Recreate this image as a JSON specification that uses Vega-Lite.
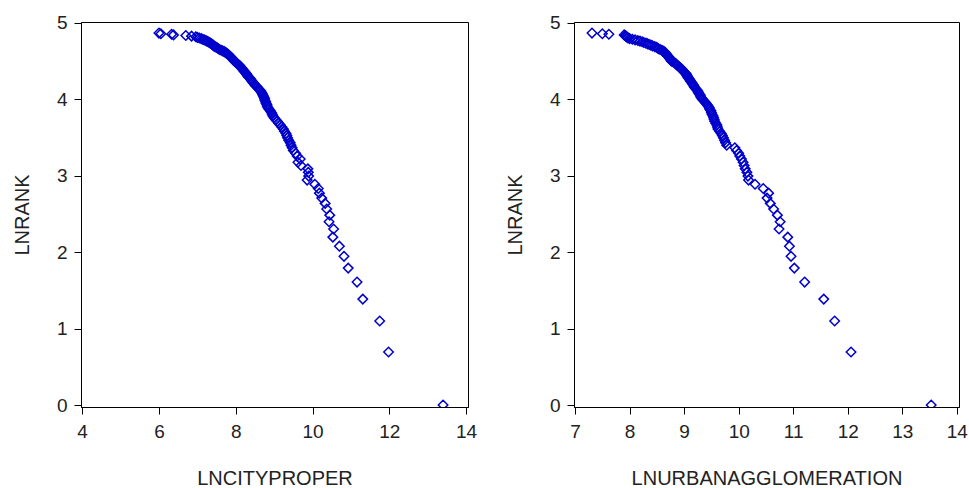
{
  "$schema": "https://vega.github.io/schema/vega-lite/v6.json",
  "background": "white",
  "padding": {"left": 11, "top": 13, "right": 5, "bottom": 0},
  "spacing": 26,
  "data": {"values": [
    {"r":1,"y":0,"c":13.40,"u":13.53},
    {"r":2,"y":0.693,"c":11.98,"u":12.06},
    {"r":3,"y":1.099,"c":11.75,"u":11.76},
    {"r":4,"y":1.386,"c":11.31,"u":11.56},
    {"r":5,"y":1.609,"c":11.16,"u":11.21},
    {"r":6,"y":1.792,"c":10.93,"u":11.02},
    {"r":7,"y":1.946,"c":10.82,"u":10.96},
    {"r":8,"y":2.079,"c":10.70,"u":10.93},
    {"r":9,"y":2.197,"c":10.53,"u":10.90},
    {"r":10,"y":2.303,"c":10.55,"u":10.74},
    {"r":11,"y":2.398,"c":10.43,"u":10.76},
    {"r":12,"y":2.485,"c":10.45,"u":10.71},
    {"r":13,"y":2.565,"c":10.37,"u":10.64},
    {"r":14,"y":2.639,"c":10.33,"u":10.58},
    {"r":15,"y":2.708,"c":10.24,"u":10.52},
    {"r":16,"y":2.773,"c":10.18,"u":10.55},
    {"r":17,"y":2.833,"c":10.15,"u":10.45},
    {"r":18,"y":2.890,"c":10.06,"u":10.30},
    {"r":19,"y":2.944,"c":9.86,"u":10.18},
    {"r":20,"y":2.996,"c":9.90,"u":10.17},
    {"r":21,"y":3.045,"c":9.89,"u":10.15},
    {"r":22,"y":3.091,"c":9.88,"u":10.12},
    {"r":23,"y":3.135,"c":9.70,"u":10.10},
    {"r":24,"y":3.178,"c":9.62,"u":10.08},
    {"r":25,"y":3.219,"c":9.68,"u":10.05},
    {"r":26,"y":3.258,"c":9.60,"u":10.02},
    {"r":27,"y":3.296,"c":9.56,"u":10.00},
    {"r":28,"y":3.332,"c":9.50,"u":9.96},
    {"r":29,"y":3.367,"c":9.47,"u":9.93},
    {"r":30,"y":3.401,"c":9.44,"u":9.78},
    {"r":31,"y":3.434,"c":9.42,"u":9.76},
    {"r":32,"y":3.466,"c":9.38,"u":9.74},
    {"r":33,"y":3.497,"c":9.35,"u":9.72},
    {"r":34,"y":3.526,"c":9.33,"u":9.70},
    {"r":35,"y":3.555,"c":9.31,"u":9.68},
    {"r":36,"y":3.584,"c":9.27,"u":9.65},
    {"r":37,"y":3.611,"c":9.24,"u":9.62},
    {"r":38,"y":3.638,"c":9.20,"u":9.61},
    {"r":39,"y":3.664,"c":9.16,"u":9.60},
    {"r":40,"y":3.689,"c":9.12,"u":9.58},
    {"r":41,"y":3.714,"c":9.08,"u":9.56},
    {"r":42,"y":3.738,"c":9.04,"u":9.55},
    {"r":43,"y":3.761,"c":9.00,"u":9.54},
    {"r":44,"y":3.784,"c":8.97,"u":9.53},
    {"r":45,"y":3.807,"c":8.95,"u":9.51},
    {"r":46,"y":3.829,"c":8.93,"u":9.50},
    {"r":47,"y":3.850,"c":8.90,"u":9.49},
    {"r":48,"y":3.871,"c":8.87,"u":9.47},
    {"r":49,"y":3.892,"c":8.84,"u":9.46},
    {"r":50,"y":3.912,"c":8.82,"u":9.44},
    {"r":51,"y":3.932,"c":8.81,"u":9.42},
    {"r":52,"y":3.951,"c":8.79,"u":9.40},
    {"r":53,"y":3.970,"c":8.78,"u":9.38},
    {"r":54,"y":3.989,"c":8.76,"u":9.35},
    {"r":55,"y":4.007,"c":8.75,"u":9.33},
    {"r":56,"y":4.025,"c":8.74,"u":9.31},
    {"r":57,"y":4.043,"c":8.72,"u":9.30},
    {"r":58,"y":4.060,"c":8.70,"u":9.29},
    {"r":59,"y":4.078,"c":8.69,"u":9.27},
    {"r":60,"y":4.094,"c":8.67,"u":9.26},
    {"r":61,"y":4.111,"c":8.65,"u":9.25},
    {"r":62,"y":4.127,"c":8.62,"u":9.23},
    {"r":63,"y":4.143,"c":8.59,"u":9.21},
    {"r":64,"y":4.159,"c":8.56,"u":9.19},
    {"r":65,"y":4.174,"c":8.53,"u":9.18},
    {"r":66,"y":4.190,"c":8.50,"u":9.17},
    {"r":67,"y":4.205,"c":8.48,"u":9.15},
    {"r":68,"y":4.220,"c":8.45,"u":9.14},
    {"r":69,"y":4.234,"c":8.43,"u":9.12},
    {"r":70,"y":4.248,"c":8.41,"u":9.11},
    {"r":71,"y":4.263,"c":8.39,"u":9.10},
    {"r":72,"y":4.277,"c":8.37,"u":9.08},
    {"r":73,"y":4.290,"c":8.34,"u":9.07},
    {"r":74,"y":4.304,"c":8.32,"u":9.06},
    {"r":75,"y":4.317,"c":8.30,"u":9.05},
    {"r":76,"y":4.331,"c":8.28,"u":9.04},
    {"r":77,"y":4.344,"c":8.26,"u":9.02},
    {"r":78,"y":4.357,"c":8.24,"u":9.00},
    {"r":79,"y":4.369,"c":8.22,"u":8.99},
    {"r":80,"y":4.382,"c":8.20,"u":8.97},
    {"r":81,"y":4.394,"c":8.18,"u":8.96},
    {"r":82,"y":4.407,"c":8.16,"u":8.94},
    {"r":83,"y":4.419,"c":8.14,"u":8.92},
    {"r":84,"y":4.431,"c":8.12,"u":8.90},
    {"r":85,"y":4.443,"c":8.10,"u":8.88},
    {"r":86,"y":4.454,"c":8.07,"u":8.86},
    {"r":87,"y":4.466,"c":8.04,"u":8.85},
    {"r":88,"y":4.477,"c":8.02,"u":8.83},
    {"r":89,"y":4.489,"c":8.00,"u":8.80},
    {"r":90,"y":4.500,"c":7.97,"u":8.77},
    {"r":91,"y":4.511,"c":7.95,"u":8.76},
    {"r":92,"y":4.522,"c":7.93,"u":8.75},
    {"r":93,"y":4.533,"c":7.91,"u":8.74},
    {"r":94,"y":4.543,"c":7.89,"u":8.73},
    {"r":95,"y":4.554,"c":7.87,"u":8.72},
    {"r":96,"y":4.564,"c":7.85,"u":8.70},
    {"r":97,"y":4.575,"c":7.83,"u":8.69},
    {"r":98,"y":4.585,"c":7.81,"u":8.68},
    {"r":99,"y":4.595,"c":7.79,"u":8.67},
    {"r":100,"y":4.605,"c":7.76,"u":8.66},
    {"r":101,"y":4.615,"c":7.73,"u":8.65},
    {"r":102,"y":4.625,"c":7.70,"u":8.63},
    {"r":103,"y":4.635,"c":7.66,"u":8.61},
    {"r":104,"y":4.644,"c":7.62,"u":8.59},
    {"r":105,"y":4.654,"c":7.58,"u":8.56},
    {"r":106,"y":4.663,"c":7.55,"u":8.53},
    {"r":107,"y":4.673,"c":7.52,"u":8.51},
    {"r":108,"y":4.682,"c":7.49,"u":8.49},
    {"r":109,"y":4.691,"c":7.46,"u":8.46},
    {"r":110,"y":4.700,"c":7.43,"u":8.42},
    {"r":111,"y":4.710,"c":7.41,"u":8.39},
    {"r":112,"y":4.718,"c":7.39,"u":8.36},
    {"r":113,"y":4.727,"c":7.37,"u":8.33},
    {"r":114,"y":4.736,"c":7.34,"u":8.30},
    {"r":115,"y":4.745,"c":7.31,"u":8.26},
    {"r":116,"y":4.754,"c":7.28,"u":8.23},
    {"r":117,"y":4.762,"c":7.25,"u":8.19},
    {"r":118,"y":4.771,"c":7.22,"u":8.15},
    {"r":119,"y":4.779,"c":7.18,"u":8.10},
    {"r":120,"y":4.787,"c":7.14,"u":8.05},
    {"r":121,"y":4.796,"c":7.10,"u":8.00},
    {"r":122,"y":4.804,"c":7.05,"u":7.97},
    {"r":123,"y":4.812,"c":7.00,"u":7.96},
    {"r":124,"y":4.820,"c":6.96,"u":7.94},
    {"r":125,"y":4.828,"c":6.85,"u":7.93},
    {"r":126,"y":4.836,"c":6.70,"u":7.92},
    {"r":127,"y":4.844,"c":6.38,"u":7.90},
    {"r":128,"y":4.852,"c":6.33,"u":7.62},
    {"r":129,"y":4.860,"c":6.05,"u":7.50},
    {"r":130,"y":4.868,"c":6.00,"u":7.31}
  ]},
  "hconcat": [
    {
      "width": 387,
      "height": 385,
      "mark": {"type": "point", "shape": "diamond", "filled": false, "size": 90, "stroke": "#0000cc", "strokeWidth": 1.5, "opacity": 1, "clip": true},
      "encoding": {
        "x": {"field": "c", "type": "quantitative", "title": "LNCITYPROPER",
              "scale": {"domain": [3.97, 14.05], "nice": false, "zero": false},
              "axis": {"values": [4, 6, 8, 10, 12, 14]}},
        "y": {"field": "y", "type": "quantitative", "title": "LNRANK",
              "scale": {"domain": [-0.026, 5.013], "nice": false, "zero": false},
              "axis": {"values": [0, 1, 2, 3, 4, 5]}}
      }
    },
    {
      "width": 385,
      "height": 385,
      "mark": {"type": "point", "shape": "diamond", "filled": false, "size": 90, "stroke": "#0000cc", "strokeWidth": 1.5, "opacity": 1, "clip": true},
      "encoding": {
        "x": {"field": "u", "type": "quantitative", "title": "LNURBANAGGLOMERATION",
              "scale": {"domain": [6.98, 14.04], "nice": false, "zero": false},
              "axis": {"values": [7, 8, 9, 10, 11, 12, 13, 14]}},
        "y": {"field": "y", "type": "quantitative", "title": "LNRANK",
              "scale": {"domain": [-0.026, 5.013], "nice": false, "zero": false},
              "axis": {"values": [0, 1, 2, 3, 4, 5]}}
      }
    }
  ],
  "config": {
    "view": {"stroke": "#000", "strokeWidth": 1},
    "axis": {
      "grid": false,
      "domainColor": "#000",
      "tickColor": "#000",
      "tickSize": 7,
      "labelFont": "Liberation Sans",
      "titleFont": "Liberation Sans",
      "labelFontSize": 19,
      "titleFontSize": 20,
      "titleFontWeight": "normal",
      "labelColor": "#222",
      "titleColor": "#222"
    },
    "axisX": {"labelPadding": 8, "titlePadding": 27},
    "axisY": {"labelPadding": 7, "titlePadding": 24}
  }
}
